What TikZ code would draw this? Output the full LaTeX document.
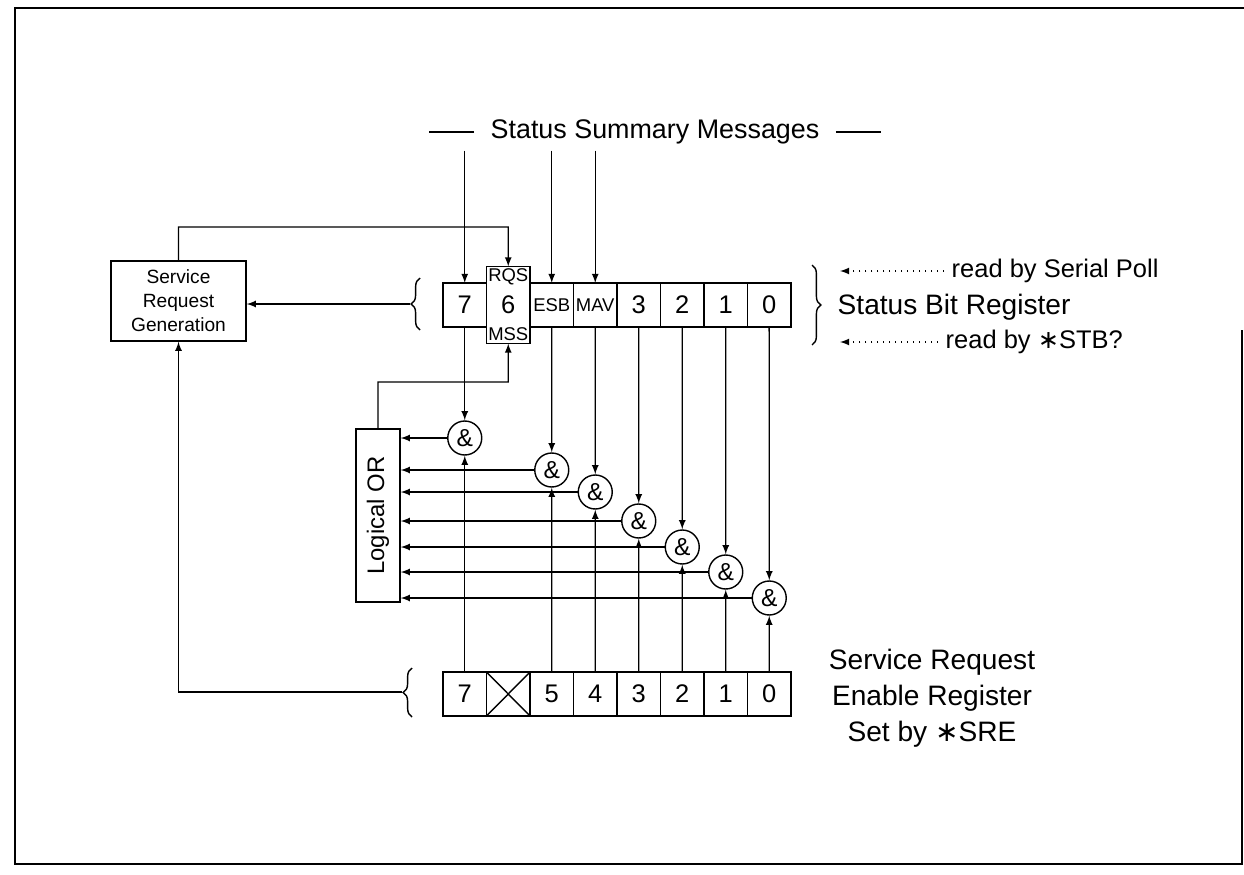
\documentclass[tikz,border=0pt]{standalone}
\usepackage{fontspec}
\setmainfont{Liberation Sans}
\newfontfamily\astfont{DejaVu Sans}
\usetikzlibrary{positioning,decorations.pathreplacing}
\newcommand{\bigast}{{\astfont ∗}}
\tikzset{cell/.style = {draw, rectangle, outer sep=0pt, inner sep=0.5pt, minimum width=0.87cm, minimum height=0.88cm, font=\fontsize{14.5}{16}\selectfont},
         tagcell/.style = {cell, font=\fontsize{10.5}{12}\selectfont},
         tagtext/.style = {font=\fontsize{10.5}{12}\selectfont, inner sep=1pt},
         gate/.style = {draw, circle, inner sep=0pt, minimum size=0.68cm, font=\fontsize{14}{15}\selectfont},
         block/.style = {draw, rectangle, align=center},
         note/.style = {font=\fontsize{16}{20.5}\selectfont, inner sep=0pt},
         readby/.style = {font=\fontsize{14.5}{16}\selectfont, anchor=west, inner xsep=4pt, inner ysep=0pt},
         regbrace/.style = {decorate, decoration={brace, amplitude=5pt}},
         poll/.style = {dash pattern=on 0.8pt off 2.6pt},
}

\begin{document}
\begin{tikzpicture}[x=0.02cm, y=-0.02cm, line width=0.8pt]

  \useasboundingbox (0,0) rectangle (1244,875);
  % frame
  \draw[line width=1.6pt] (1242,330) -- (1242,864) -- (15,864) -- (15,8) -- (1244,8);

  % title
  \node[font=\fontsize{15.3}{17}\selectfont] (ssm) at (655,132) {Status Summary Messages};
  \draw ([xshift=-0.2cm]ssm.west) -- ++(-0.9cm,0);
  \draw ([xshift=0.2cm]ssm.east) -- ++(0.9cm,0);

  % status bit register
  \node[cell] (sb7) at (464.75,305) {7};
  \node[cell, right = 0pt of sb7, minimum height = 1.54cm,
        label={[tagtext, anchor=north]north:RQS},
        label={[tagtext, anchor=south]south:MSS}] (sb6) {6};
  \node[tagcell, right = 0pt of sb6] (sb5) {ESB};
  \node[tagcell, right = 0pt of sb5] (sb4) {MAV};
  \node[cell, right = 0pt of sb4] (sb3) {3};
  \node[cell, right = 0pt of sb3] (sb2) {2};
  \node[cell, right = 0pt of sb2] (sb1) {1};
  \node[cell, right = 0pt of sb1] (sb0) {0};

  % service request enable register
  \node[cell] (en7) at (464.75,694) {7};
  \node[cell, right = 0pt of en7,
        path picture={\draw (path picture bounding box.north west) -- (path picture bounding box.south east)
                            (path picture bounding box.south west) -- (path picture bounding box.north east);}] (en6) {};
  \node[cell, right = 0pt of en6] (en5) {5};
  \node[cell, right = 0pt of en5] (en4) {4};
  \node[cell, right = 0pt of en4] (en3) {3};
  \node[cell, right = 0pt of en3] (en2) {2};
  \node[cell, right = 0pt of en2] (en1) {1};
  \node[cell, right = 0pt of en1] (en0) {0};

  % and gates
  \node[gate] (and7) at (464.75,438) {\&};
  \node[gate] (and5) at (551.75,470) {\&};
  \node[gate] (and4) at (595.25,492) {\&};
  \node[gate] (and3) at (638.75,521) {\&};
  \node[gate] (and2) at (682.25,547) {\&};
  \node[gate] (and1) at (725.75,572) {\&};
  \node[gate] (and0) at (769.25,598) {\&};

  \node[block, minimum width = 0.88cm, minimum height = 3.46cm, font = \fontsize{13.6}{15}\selectfont] (lor) at (378,515.5) {\rotatebox{90}{Logical OR}};
  \node[block, minimum width = 2.7cm, minimum height = 1.6cm, font = \fontsize{10.9}{13.6}\selectfont] (srg) at (178.5,301) {Service\\Request\\Generation};

  % texts on the right
  \node[note, anchor = west] (sbr) at (837,307) {Status Bit Register};
  \node[readby] (rsp) at (944,271) {read by Serial Poll};
  \node[readby] (rstb) at (938,342) {read by \bigast STB?};
  \node[note, align = center] (sre) at (932,698) {Service Request\\Enable Register\\Set by \bigast SRE};
  \coordinate (rspend) at (840,271);
  \coordinate (rstbend) at (840,342);

  % braces
  \draw[regbrace] (420,330) -- (420,278);
  \draw[regbrace] (412,717) -- (412,668);
  \draw[regbrace] (812,265) -- (812,345);
  \coordinate (sbtip) at (410,304);
  \coordinate (entip) at (402,692);
  \coordinate (rqsin) at (508.25,227);
  \coordinate (mssin) at (508.25,382);

  % summary messages
  \draw[-latex] (sb7 |- ssm.south) -- (sb7);
  \draw[-latex] (sb5 |- ssm.south) -- (sb5);
  \draw[-latex] (sb4 |- ssm.south) -- (sb4);

  \draw[-latex] (sbtip) -- (sbtip -| srg.east);
  \draw[-latex] (entip) -| (srg.south);
  \draw[-latex] (srg.north) |- (rqsin) -- (sb6.north);
  \draw[-latex] (lor.north) |- (mssin) -- (sb6.south);

  \draw[-latex] (sb7) -- (and7);
  \draw[-latex] (sb5) -- (and5);
  \draw[-latex] (sb4) -- (and4);
  \draw[-latex] (sb3) -- (and3);
  \draw[-latex] (sb2) -- (and2);
  \draw[-latex] (sb1) -- (and1);
  \draw[-latex] (sb0) -- (and0);

  \draw[-latex] (en7) -- (and7);
  \draw[-latex] (en5) -- (and5);
  \draw[-latex] (en4) -- (and4);
  \draw[-latex] (en3) -- (and3);
  \draw[-latex] (en2) -- (and2);
  \draw[-latex] (en1) -- (and1);
  \draw[-latex] (en0) -- (and0);

  \draw[-latex] (and7) -- (and7 -| lor.east);
  \draw[-latex] (and5) -- (and5 -| lor.east);
  \draw[-latex] (and4) -- (and4 -| lor.east);
  \draw[-latex] (and3) -- (and3 -| lor.east);
  \draw[-latex] (and2) -- (and2 -| lor.east);
  \draw[-latex] (and1) -- (and1 -| lor.east);
  \draw[-latex] (and0) -- (and0 -| lor.east);

  \draw[poll, -latex] (rsp) -- (rspend);
  \draw[poll, -latex] (rstb) -- (rstbend);

\end{tikzpicture}
\end{document}
